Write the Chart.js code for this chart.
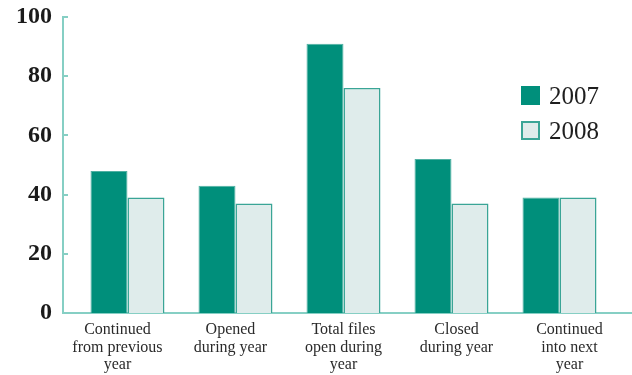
<!DOCTYPE html>
<html>
<head>
<meta charset="utf-8">
<script src="https://cdn.jsdelivr.net/npm/chart.js@4.4.0/dist/chart.umd.min.js"></script>
<style>
  body { margin: 0; background: #fff; }
  #wrap { position: relative; width: 632px; height: 375px; }
  #legend { position: absolute; left: 521px; top: 78px; font-family: "Liberation Serif", "DejaVu Serif", serif; font-size: 25px; color: #1e1e1e; }
  .item { display: flex; align-items: center; height: 35px; }
  .box { width: 19px; height: 19px; box-sizing: border-box; margin-right: 9px; }
</style>
</head>
<body>
<div id="wrap">
  <canvas id="chart" width="632" height="375"></canvas>
  <div id="legend"></div>
</div>
<script>
// datos
const categories = [
    ['Continued', 'from previous', 'year'],
    ['Opened', 'during year'],
    ['Total files', 'open during', 'year'],
    ['Closed', 'during year'],
    ['Continued', 'into next', 'year']
];
const values2007 = [48, 43, 91, 52, 39];
const values2008 = [39, 37, 76, 37, 39];
const yTicks = [0, 20, 40, 60, 80, 100];

const axisColor = '#86cfc4';
const serif = '"Liberation Serif", "DejaVu Serif", serif';

function toPoints(arr) {
    return arr.map((v, i) => ({ x: i, y: v }));
}

const datasets = [
    {
        label: '2007',
        data: toPoints(values2007),
        backgroundColor: '#008f7b',
        borderColor: '#4fb0a2',
        borderWidth: 1
    },
    {
        label: '2008',
        data: toPoints(values2008),
        backgroundColor: '#dfeceb',
        borderColor: '#3aa596',
        borderWidth: 1.5
    }
];

// ticks del eje Y hacia dentro
const innerTicks = {
    id: 'innerTicks',
    afterDraw(chart) {
        const y = chart.scales.y;
        const ctx = chart.ctx;
        ctx.save();
        ctx.strokeStyle = axisColor;
        ctx.lineWidth = 2;
        yTicks.forEach(t => {
            if (t === 0) return;
            const py = Math.round(y.getPixelForValue(t));
            ctx.beginPath();
            ctx.moveTo(y.right, py);
            ctx.lineTo(y.right + 5, py);
            ctx.stroke();
        });
        ctx.restore();
    }
};

const categoryTicks = scale => {
    scale.ticks = categories.map((_, i) => ({ value: i }));
};

const chart = new Chart(document.getElementById('chart'), {
    type: 'bar',
    data: { datasets: datasets },
    plugins: [innerTicks],
    options: {
        responsive: false,
        animation: false,
        categoryPercentage: 0.685,
        barPercentage: 1,
        layout: { padding: { top: 17, right: 1, left: 0, bottom: 0 } },
        plugins: { legend: { display: false }, tooltip: { enabled: false } },
        scales: {
            x: {
                type: 'linear',
                display: false,
                offset: false,
                min: -0.597,
                max: 4.662,
                afterBuildTicks: categoryTicks
            },
            xl: {
                type: 'linear',
                position: 'bottom',
                offset: false,
                min: -0.482,
                max: 4.544,
                grid: { display: false, drawTicks: false },
                border: { display: true, color: axisColor, width: 2 },
                afterBuildTicks: categoryTicks,
                afterFit(scale) {
                    scale.height = 62;
                    scale.paddingLeft = 0;
                    scale.paddingRight = 0;
                },
                ticks: {
                    autoSkip: false,
                    maxRotation: 0,
                    padding: 8,
                    color: '#2a2a2a',
                    font: { family: serif, size: 16, lineHeight: 1.1 },
                    callback: function(value) { return categories[value]; }
                }
            },
            y: {
                min: 0,
                max: 100,
                grid: { display: false, drawTicks: false },
                border: { display: true, color: axisColor, width: 2 },
                afterBuildTicks(scale) {
                    scale.ticks = yTicks.map(v => ({ value: v }));
                },
                afterFit(scale) {
                    scale.width = 63;
                    scale.paddingTop = 0;
                    scale.paddingBottom = 0;
                },
                ticks: {
                    padding: 11,
                    color: '#1a1a1a',
                    font: { family: serif, size: 24, weight: 'bold' }
                }
            }
        }
    }
});

// leyenda
const legend = document.getElementById('legend');
datasets.forEach(ds => {
    const item = document.createElement('div');
    item.className = 'item';
    const box = document.createElement('span');
    box.className = 'box';
    box.style.background = ds.backgroundColor;
    box.style.border = '2px solid ' + (ds.label === '2008' ? '#3aa596' : ds.backgroundColor);
    const txt = document.createElement('span');
    txt.textContent = ds.label;
    item.appendChild(box);
    item.appendChild(txt);
    legend.appendChild(item);
});
</script>
</body>
</html>
